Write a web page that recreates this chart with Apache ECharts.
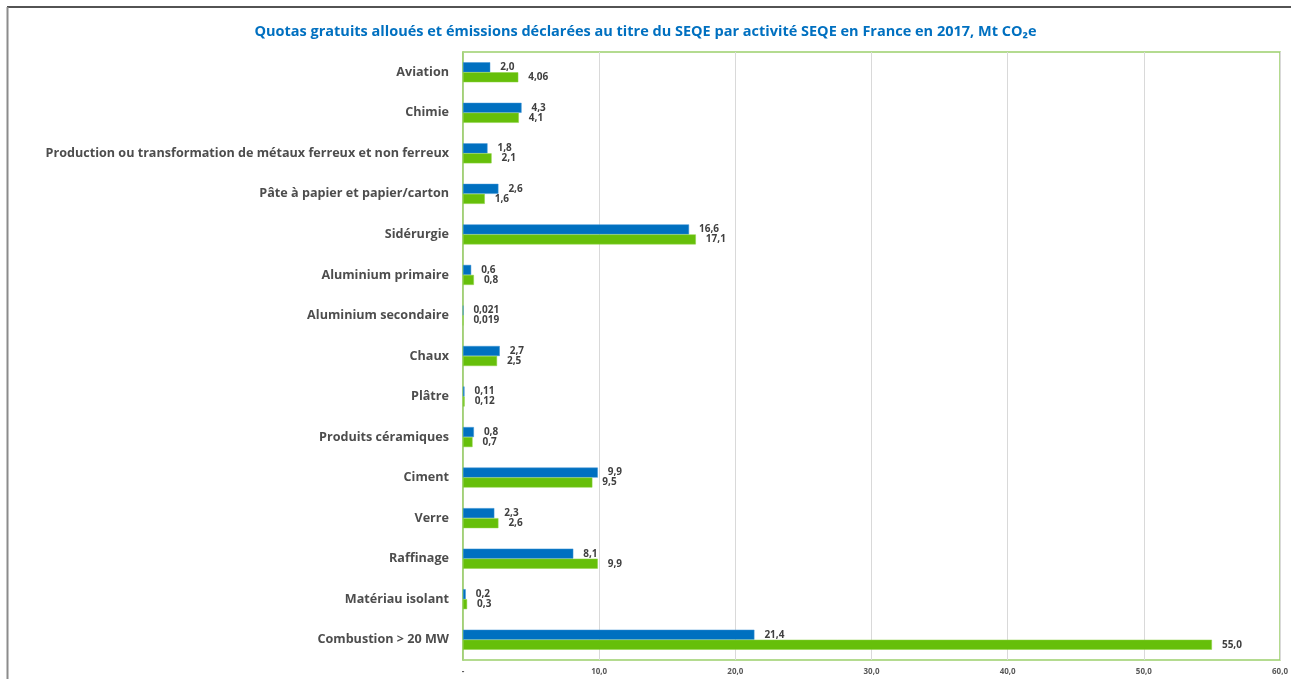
<!DOCTYPE html>
<html>
<head>
<meta charset="utf-8">
<script src="https://cdn.jsdelivr.net/npm/echarts@6/dist/echarts.min.js"></script>
<style>
  html, body { margin: 0; padding: 0; background: #ffffff; }
  #chart { width: 1291px; height: 679px; }
</style>
</head>
<body>
<div id="chart"></div>
<script>
// Activities covered by the EU ETS (SEQE) in France, 2017
const categories = [
  'Aviation',
  'Chimie',
  'Production ou transformation de métaux ferreux et non ferreux',
  'Pâte à papier et papier/carton',
  'Sidérurgie',
  'Aluminium primaire',
  'Aluminium secondaire',
  'Chaux',
  'Plâtre',
  'Produits céramiques',
  'Ciment',
  'Verre',
  'Raffinage',
  'Matériau isolant',
  'Combustion > 20 MW'
];

// Mt CO2e per activity
const blueValues  = [2.0, 4.3, 1.8, 2.6, 16.6, 0.6, 0.021, 2.7, 0.11, 0.8, 9.9, 2.3, 8.1, 0.2, 21.4];
const greenValues = [4.06, 4.1, 2.1, 1.6, 17.1, 0.8, 0.019, 2.5, 0.12, 0.7, 9.5, 2.6, 9.9, 0.3, 55.0];

const xTickLabels = ['-', '10,0', '20,0', '30,0', '40,0', '50,0', '60,0'];

// French decimal format, at least one decimal place
function fmt(v) {
  let s = String(v);
  if (s.indexOf('.') < 0) s += '.0';
  return s.replace('.', ',');
}

const FONT = '"Open Sans", Lato, sans-serif';

const chart = echarts.init(document.getElementById('chart'));

const labelStyle = {
  show: true,
  position: 'right',
  distance: 10,
  fontFamily: FONT,
  fontSize: 10,
  fontWeight: 'bold',
  color: '#404040',
  formatter: p => fmt(p.value)
};

chart.setOption({
  animation: false,
  backgroundColor: '#ffffff',
  title: {
    text: 'Quotas gratuits alloués et émissions déclarées au titre du SEQE par activité SEQE en France en 2017, Mt CO₂e',
    left: 'center',
    top: 19,
    textStyle: {
      fontFamily: FONT,
      fontSize: 14.5,
      fontWeight: 'bold',
      color: '#0070C0'
    }
  },
  graphic: [
    { type: 'line', shape: { x1: 7, y1: 7, x2: 1291, y2: 7 }, style: { stroke: '#1a1a1a', lineWidth: 1.5 } },
    { type: 'line', shape: { x1: 7.5, y1: 7, x2: 7.5, y2: 679 }, style: { stroke: '#8c8c8c', lineWidth: 2 } }
  ],
  grid: {
    left: 463,
    right: 9,
    top: 52,
    bottom: 19,
    show: true,
    borderColor: '#9ccf6c',
    borderWidth: 1.5,
    containLabel: false
  },
  xAxis: {
    type: 'value',
    min: 0,
    max: 60,
    interval: 10,
    axisLine: { show: false },
    axisTick: { show: false },
    splitLine: { show: true, lineStyle: { color: '#d9d9d9', width: 1 } },
    axisLabel: {
      fontFamily: FONT,
      fontSize: 8,
      fontWeight: 'bold',
      color: '#595959',
      margin: 8,
      formatter: (v) => xTickLabels[Math.round(v / 10)]
    }
  },
  yAxis: {
    type: 'category',
    data: categories,
    inverse: true,
    axisLine: { show: true, lineStyle: { color: '#9ccf6c', width: 1.5 } },
    axisTick: { show: false },
    splitLine: { show: false },
    axisLabel: {
      fontFamily: FONT,
      fontSize: 12.6,
      fontWeight: 'bold',
      color: '#4d4d4d',
      margin: 14
    }
  },
  series: [
    {
      name: 'blue',
      type: 'bar',
      data: blueValues,
      barWidth: 10,
      barGap: '0%',
      itemStyle: { color: '#0070C0', borderColor: '#3d92d4', borderWidth: 0.5 },
      label: labelStyle
    },
    {
      name: 'green',
      type: 'bar',
      data: greenValues,
      barWidth: 10,
      barGap: '0%',
      itemStyle: { color: '#66BF0A', borderColor: '#8fd245', borderWidth: 0.5 },
      label: labelStyle
    }
  ]
});
</script>
</body>
</html>
